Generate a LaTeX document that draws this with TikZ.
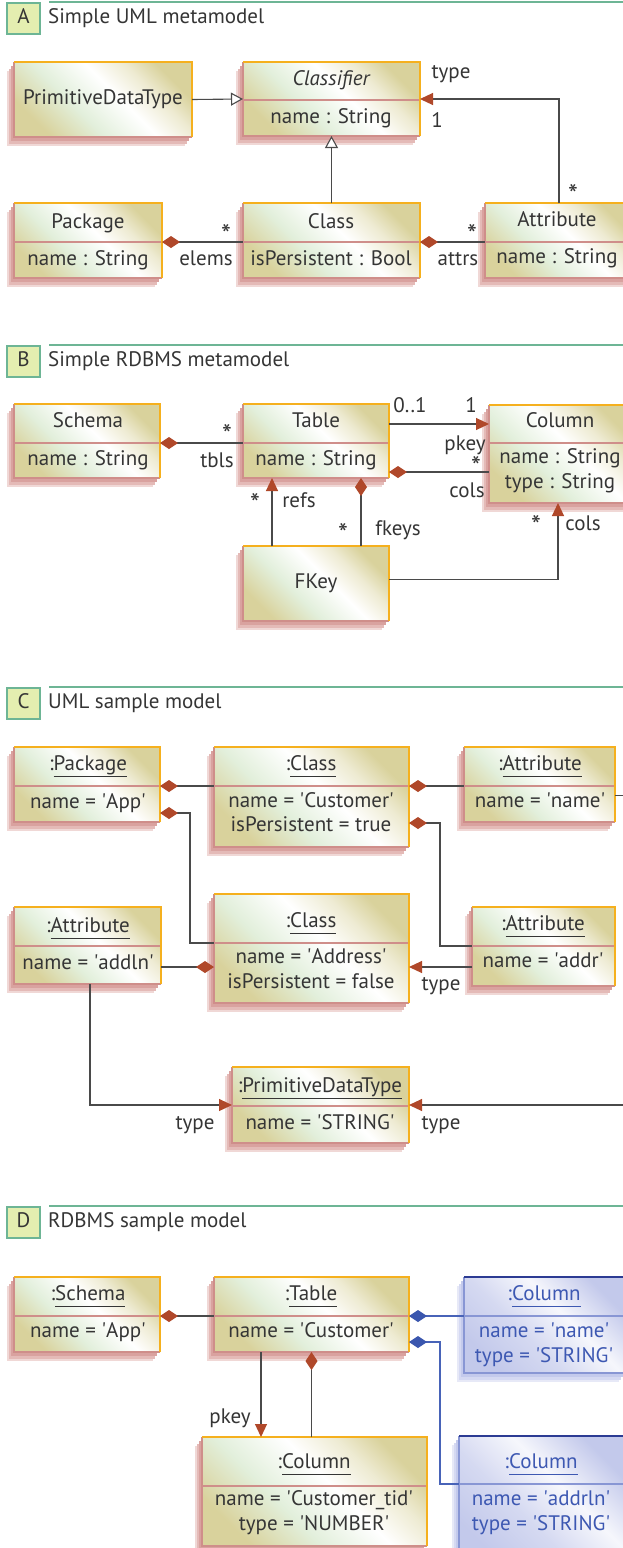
\documentclass[tikz,border=0pt]{standalone}
\usepackage{fontspec}
\setmainfont{PT Sans}
\usetikzlibrary{arrows.meta}

\definecolor{ink}{HTML}{353535}
\definecolor{wire}{HTML}{4A4A4A}
\definecolor{rust}{HTML}{B0482A}
\definecolor{amber}{HTML}{F5B01E}
\definecolor{rose}{HTML}{CF8E8A}
\definecolor{roseA}{HTML}{D9A29F}
\definecolor{roseB}{HTML}{E4BAB7}
\definecolor{roseC}{HTML}{F0D8D6}
\definecolor{khaki}{HTML}{D9D29C}
\definecolor{mint}{HTML}{E2EFDB}
\definecolor{navy}{HTML}{2C3B93}
\definecolor{periw}{HTML}{8896D4}
\definecolor{lav}{HTML}{C3C9EB}
\definecolor{lavA}{HTML}{C4CAEC}
\definecolor{lavB}{HTML}{D5D9F2}
\definecolor{lavC}{HTML}{E7E9F7}
\definecolor{bluetext}{HTML}{3D58B2}
\definecolor{bluewire}{HTML}{4863B8}
\definecolor{bluediamond}{HTML}{3A56AE}
\definecolor{teal}{HTML}{6DB595}
\definecolor{lime}{HTML}{E4EEB0}

\pgfdeclarehorizontalshading{sheen}{100bp}{color(0bp)=(khaki); color(25bp)=(khaki); color(40bp)=(mint); color(55bp)=(white); color(66bp)=(khaki!45!white); color(75bp)=(khaki); color(100bp)=(khaki)}
\pgfdeclarehorizontalshading{bluesheen}{100bp}{color(0bp)=(lav); color(25bp)=(lav); color(42bp)=(lav!70!white); color(58bp)=(lav!15!white); color(68bp)=(lav!65!white); color(75bp)=(lav); color(100bp)=(lav)}

\newcommand\q{\textquotesingle}
\newcommand\uword[1]{\setbox0\hbox{#1}\rlap{\rule[-7pt]{\wd0}{1.1pt}}\box0}

% class / object box: style prefix, name, x1, y1, x2, y2, divider y (empty = none)
\newcommand\umlbox[7]{%
  \fill[#1 shade C] (#3-7,#4+9) rectangle (#5-7,#6+9);
  \fill[#1 shade B] (#3-5,#4+6.5) rectangle (#5-5,#6+6.5);
  \fill[#1 shade A] (#3-3,#4+4) rectangle (#5-3,#6+4);
  \node[#1 body, minimum width={#5-#3}, minimum height={#6-#4}] (#2) at ({(#3+#5)/2},{(#4+#6)/2}) {};
  \ifx\relax#7\relax\else
    \draw[#1 rule] (#3,#7) -- (#5,#7);
    \coordinate (#2-dl) at (#3,#7);
    \coordinate (#2-dr) at (#5,#7);
  \fi
  \draw[#1 low] (#2.north west) -- (#2.south west) -- (#2.south east);
  \draw[#1 high] (#2.north west) -- (#2.north east) -- (#2.south east);
}

% section heading: name, top y, letter, title
\newcommand\sechead[4]{%
  \draw[headline] (49,#2) -- (640,#2);
  \node[headbox, anchor=north west] (#1) at (6,#2) {#3};
  \node[txt, anchor=west] (#1-title) at (48,#2+16) {#4};
}

\begin{document}
\begin{tikzpicture}[x=1pt,y=-1pt,
  txt/.style={text=ink,font=\fontsize{21}{24}\selectfont,inner sep=0pt,text height=14pt,text depth=4pt},
  btxt/.style={txt,text=bluetext},
  mult/.style={txt,font=\fontsize{28}{28}\selectfont},
  headline/.style={draw=teal,line width=2.6pt},
  headbox/.style={txt,fill=lime,draw=teal,line width=2pt,minimum width=33pt,minimum height=31pt},
  obox shade A/.style={fill=roseA},
  obox shade B/.style={fill=roseB},
  obox shade C/.style={fill=roseC},
  obox body/.style={rectangle,inner sep=0pt,outer sep=0pt,shading=sheen,shading angle=45},
  obox rule/.style={draw=rose,line width=2.4pt},
  obox low/.style={draw=rose,line width=2.4pt},
  obox high/.style={draw=amber,line width=2.8pt},
  bbox shade A/.style={fill=lavA},
  bbox shade B/.style={fill=lavB},
  bbox shade C/.style={fill=lavC},
  bbox body/.style={rectangle,inner sep=0pt,outer sep=0pt,shading=bluesheen,shading angle=45},
  bbox rule/.style={draw=periw,line width=2.4pt},
  bbox low/.style={draw=periw,line width=2.4pt},
  bbox high/.style={draw=navy,line width=2.8pt},
  link/.style={draw=wire,line width=1.1pt},
  arr/.style={link,-{Triangle[length=13pt,width=12pt,color=rust,fill=rust]}},
  gen/.style={link,-{Triangle[length=12pt,width=13pt,fill=white]}},
  comp/.style={link,{Diamond[length=18pt,width=12pt,color=rust,fill=rust]}-},
  bcomp/.style={draw=bluewire,line width=1.1pt,{Diamond[length=18pt,width=12pt,color=bluediamond,fill=bluediamond]}-}
]
\useasboundingbox (0,0) rectangle (623,1548);
\clip (0,0) rectangle (623,1548);
\fill[white] (0,0) rectangle (623,1548);

%% ---------------- A: UML metamodel ----------------
\sechead{hA}{2}{A}{Simple UML metamodel}
\umlbox{obox}{pdt}{14}{62}{192}{137}{}
\node[txt] (pdt-t) at (103,99.5) {PrimitiveDataType};
\umlbox{obox}{clf}{243}{62}{420}{136}{100}
\node[txt] (clf-t) at (331,80) {\itshape Classifier};
\node[txt] (clf-a) at (331,118) {name : String};
\umlbox{obox}{pkg}{14}{203}{162}{278}{242}
\node[txt] (pkg-t) at (88,223) {Package};
\node[txt] (pkg-a) at (88,260) {name : String};
\umlbox{obox}{cls}{243}{203}{420}{278}{242}
\node[txt] (cls-t) at (331,223) {Class};
\node[txt] (cls-a) at (331,260) {isPersistent : Bool};
\umlbox{obox}{att}{485}{203}{633}{278}{242}
\node[txt] (att-t) at (557,221) {Attribute};
\node[txt] (att-a) at (557,258) {name : String};

\draw[gen] (pdt.east) -- (clf.west);
\draw[gen] (cls.north) -- (clf.south);
\draw[arr] (att.north) |- (clf.east);
\draw[comp] (pkg.east |- pkg-dl) -- (cls-dl);
\draw[comp] (cls-dr) -- (att-dl);
\node[txt] (lA1) at (451,73) {type};
\node[txt] (lA2) at (437,122) {1};
\node[mult] (lA3) at (573,199) {*};
\node[mult] (lA4) at (226,239) {*};
\node[txt] (lA5) at (206,260) {elems};
\node[mult] (lA6) at (472,239) {*};
\node[txt] (lA7) at (458,260) {attrs};

%% ---------------- B: RDBMS metamodel ----------------
\sechead{hB}{345}{B}{Simple RDBMS metamodel}
\umlbox{obox}{sch}{14}{404}{160}{478}{443}
\node[txt] (sch-t) at (88,422) {Schema};
\node[txt] (sch-a) at (88,460) {name : String};
\umlbox{obox}{tab}{243}{404}{389}{478}{443}
\node[txt] (tab-t) at (316,422) {Table};
\node[txt] (tab-a) at (316,460) {name : String};
\umlbox{obox}{col}{489}{405}{633}{503}{443}
\node[txt] (col-t) at (560,422) {Column};
\node[txt] (col-a) at (560,458) {name : String};
\node[txt] (col-b) at (560,483) {type : String};
\umlbox{obox}{fk}{243}{546}{389}{621}{}
\node[txt] (fk-t) at (316,583) {FKey};

\draw[comp] (sch.east |- sch-dl) -- (tab-dl);
\draw[arr] ([yshift=-20pt]tab.north east) -- ([yshift=-19pt]col.north west);
\draw[comp] ([yshift=-68pt]tab.north east) -- ([yshift=-67pt]col.north west);
\draw[arr] ([xshift=29pt]fk.north west) -- ([xshift=29pt]tab.south west);
\draw[comp] ([xshift=118pt]tab.south west) -- ([xshift=118pt]fk.north west);
\draw[arr] ([yshift=4pt]fk.east) -| ([xshift=69pt]col.south west);
\node[mult] (lB1) at (227,439) {*};
\node[txt] (lB2) at (217,462) {tbls};
\node[txt] (lB3) at (410,407) {0..1};
\node[txt] (lB4) at (471,407) {1};
\node[txt] (lB5) at (465,445) {pkey};
\node[mult] (lB6) at (476,471) {*};
\node[txt] (lB7) at (467,492) {cols};
\node[mult] (lB8) at (255,508) {*};
\node[txt] (lB9) at (299,502) {refs};
\node[mult] (lB10) at (343,538) {*};
\node[txt] (lB11) at (398,530) {fkeys};
\node[mult] (lB12) at (536,530) {*};
\node[txt] (lB13) at (583,525) {cols};

%% ---------------- C: UML sample model ----------------
\sechead{hC}{687}{C}{UML sample model}
\umlbox{obox}{ipkg}{14}{747}{160}{822}{786}
\node[txt] (ipkg-t) at (88,765) {:\uword{Package}};
\node[txt] (ipkg-a) at (88,803) {name = \q App\q};
\umlbox{obox}{icus}{214}{747}{409}{847}{786}
\node[txt] (icus-t) at (311,765) {:\uword{Class}};
\node[txt] (icus-a) at (311,802) {name = \q Customer\q};
\node[txt] (icus-b) at (311,826) {isPersistent = true};
\umlbox{obox}{iname}{464}{747}{615}{822}{786}
\node[txt] (iname-t) at (540,765) {:\uword{Attribute}};
\node[txt] (iname-a) at (540,802) {name = \q name\q};
\umlbox{obox}{iaddln}{14}{907}{161}{984}{946}
\node[txt] (iaddln-t) at (88,927) {:\uword{Attribute}};
\node[txt] (iaddln-a) at (88,964) {name = \q addln\q};
\umlbox{obox}{iadr}{214}{894}{409}{1003}{943}
\node[txt] (iadr-t) at (311,922) {:\uword{Class}};
\node[txt] (iadr-a) at (311,958) {name = \q Address\q};
\node[txt] (iadr-b) at (311,983) {isPersistent = false};
\umlbox{obox}{iaddr}{472}{907}{615}{986}{946}
\node[txt] (iaddr-t) at (543,925) {:\uword{Attribute}};
\node[txt] (iaddr-a) at (543,962) {name = \q addr\q};
\umlbox{obox}{iprim}{232}{1067}{409}{1143}{1106}
\node[txt] (iprim-t) at (320,1087) {:\uword{PrimitiveDataType}};
\node[txt] (iprim-a) at (320,1124) {name = \q STRING\q};

\draw[comp] (ipkg.east |- ipkg-dl) -- (icus-dl);
\draw[comp] (icus-dr) -- (iname-dl);
\draw[comp] ([yshift=-66pt]ipkg.north east) -| ([xshift=-24pt]iadr-dl) -- (iadr-dl);
\draw[comp] ([yshift=-76pt]icus.north east) -| ([xshift=-32pt]iaddr-dl) -- (iaddr-dl);
\draw[comp] ([yshift=-73pt]iadr.north west) -- ([yshift=-60pt]iaddln.north east);
\draw[arr] ([yshift=-60pt]iaddr.north west) -- ([yshift=-73pt]iadr.north east);
\draw[arr] ([xshift=76pt]iaddln.south west) |- (iprim.west);
\draw[arr] ([yshift=-11pt]iname.east) -- ++(30,0) |- (iprim.east);
\node[txt] (lC1) at (441,985) {type};
\node[txt] (lC2) at (195,1124) {type};
\node[txt] (lC3) at (441,1124) {type};

%% ---------------- D: RDBMS sample model ----------------
\sechead{hD}{1206}{D}{RDBMS sample model}
\umlbox{obox}{dsch}{14}{1277}{160}{1352}{1316}
\node[txt] (dsch-t) at (88,1295) {:\uword{Schema}};
\node[txt] (dsch-a) at (88,1332) {name = \q App\q};
\umlbox{obox}{dtab}{214}{1277}{409}{1352}{1316}
\node[txt] (dtab-t) at (311,1295) {:\uword{Table}};
\node[txt] (dtab-a) at (311,1332) {name = \q Customer\q};
\umlbox{bbox}{dc1}{464}{1277}{626}{1373}{1316}
\node[btxt] (dc1-t) at (544,1295) {:\uword{Column}};
\node[btxt] (dc1-a) at (544,1332) {name = \q name\q};
\node[btxt] (dc1-b) at (544,1357) {type = \q STRING\q};
\umlbox{bbox}{dc2}{459}{1436}{626}{1565}{1484}
\node[btxt] (dc2-t) at (541,1463) {:\uword{Column}};
\node[btxt] (dc2-a) at (541,1500) {name = \q addrln\q};
\node[btxt] (dc2-b) at (541,1525) {type = \q STRING\q};
\umlbox{obox}{dcol}{202}{1437}{427}{1546}{1486}
\node[txt] (dcol-t) at (314,1463) {:\uword{Column}};
\node[txt] (dcol-a) at (314,1500) {name = \q Customer\_tid\q};
\node[txt] (dcol-b) at (314,1525) {type = \q NUMBER\q};

\draw[comp] (dsch.east |- dsch-dl) -- (dtab-dl);
\draw[bcomp] (dtab-dr) -- (dc1-dl);
\draw[bcomp] ([yshift=-65pt]dtab.north east) -| ([xshift=-19pt]dc2-dl) -- (dc2-dl);
\draw[arr] ([xshift=47pt]dtab.south west) -- ([xshift=59pt]dcol.north west);
\draw[comp] (dtab.south) -- ([xshift=109.5pt]dcol.north west);
\node[txt] (lD1) at (230,1418) {pkey};
\end{tikzpicture}
\end{document}
